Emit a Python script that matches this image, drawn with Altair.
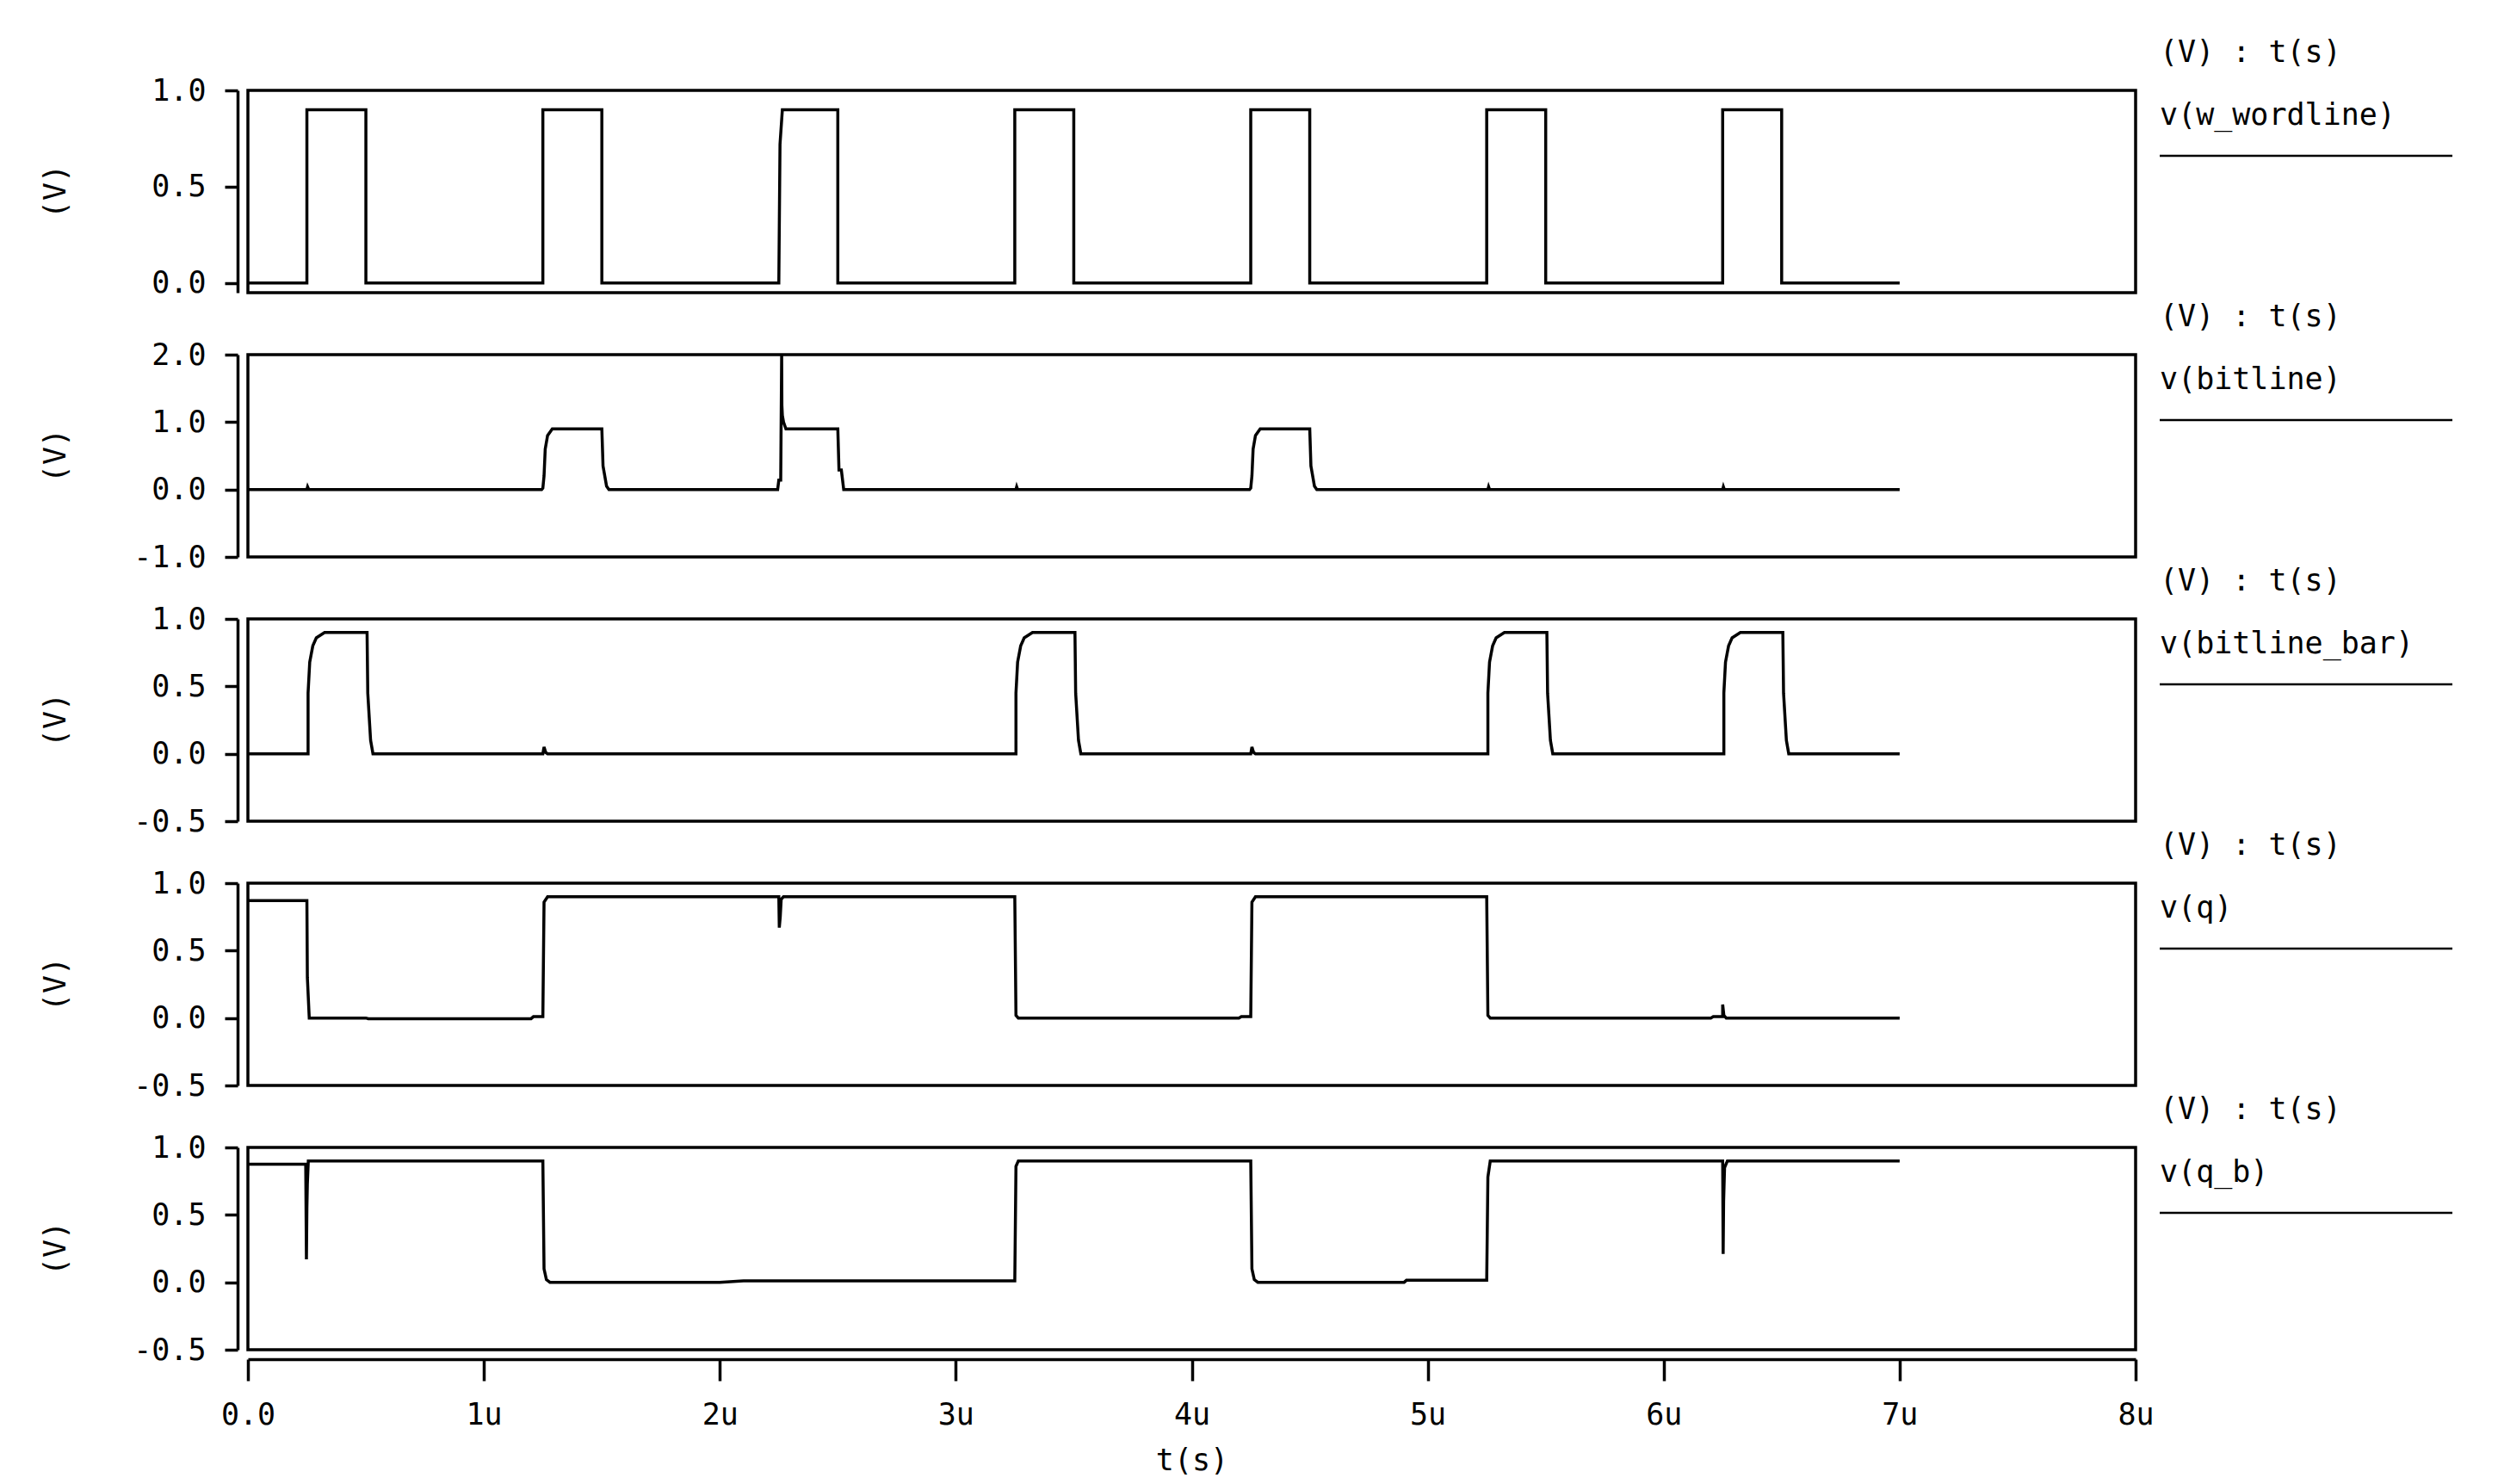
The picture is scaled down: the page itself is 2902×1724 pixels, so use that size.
import altair as alt
import pandas as pd

FONT = "DejaVu Sans Mono"
FS = 35
W = 2193
H = 235

# x axis (time in microseconds)
X_TICKS = [0, 1, 2, 3, 4, 5, 6, 7, 8]
X_TICK_LABELS = ["0.0", "1u", "2u", "3u", "4u", "5u", "6u", "7u", "8u"]

SIGNAL_NAMES = ["v(w_wordline)", "v(bitline)", "v(bitline_bar)", "v(q)", "v(q_b)"]
HEADER = "(V) : t(s)"
Y_TITLE = "(V)"
X_TITLE = "t(s)"
Y_DOMAINS = [[-0.05, 1.0], [-1.0, 2.0], [-0.5, 1.0], [-0.5, 1.0], [-0.5, 1.0]]
Y_TICKS = [
    [0.0, 0.5, 1.0],
    [-1.0, 0.0, 1.0, 2.0],
    [-0.5, 0.0, 0.5, 1.0],
    [-0.5, 0.0, 0.5, 1.0],
    [-0.5, 0.0, 0.5, 1.0],
]

# v(w_wordline)
WL_T = [0.0, 0.25, 0.25, 0.5, 0.5, 1.25, 1.25, 1.5, 1.5, 2.25, 2.255, 2.265, 2.5, 2.5,
        3.25, 3.25, 3.5, 3.5, 4.25, 4.25, 4.5, 4.5, 5.25, 5.25, 5.5, 5.5, 6.25, 6.25,
        6.5, 6.5, 7.0]
WL_V = [0.0, 0.0, 0.9, 0.9, 0.0, 0.0, 0.9, 0.9, 0.0, 0.0, 0.72, 0.9, 0.9, 0.0,
        0.0, 0.9, 0.9, 0.0, 0.0, 0.9, 0.9, 0.0, 0.0, 0.9, 0.9, 0.0, 0.0, 0.9,
        0.9, 0.0, 0.0]

# v(bitline)
BL_T = [0.0, 0.25, 0.253, 0.258, 1.245, 1.25, 1.255, 1.26, 1.27, 1.29, 1.5, 1.505,
        1.52, 1.53, 2.245, 2.25, 2.258, 2.262, 2.263, 2.265, 2.27, 2.275, 2.28, 2.5,
        2.505, 2.515, 2.525, 3.255, 3.258, 3.262, 4.245, 4.25, 4.255, 4.26, 4.27,
        4.29, 4.5, 4.505, 4.52, 4.53, 5.255, 5.258, 5.262, 6.25, 6.253, 6.257, 7.0]
BL_V = [0.0, 0.0, 0.04, 0.0, 0.0, 0.02, 0.2, 0.6, 0.8, 0.9, 0.9, 0.35,
        0.05, 0.0, 0.0, 0.14, 0.14, 2.0, 1.25, 1.1, 1.0, 0.95, 0.9, 0.9,
        0.29, 0.29, 0.0, 0.0, 0.04, 0.0, 0.0, 0.02, 0.2, 0.6, 0.8,
        0.9, 0.9, 0.35, 0.05, 0.0, 0.0, 0.04, 0.0, 0.0, 0.04, 0.0, 0.0]

# v(bitline_bar)
BLB_T = [0.0, 0.255, 0.255, 0.262, 0.275, 0.29, 0.325, 0.505, 0.508, 0.52, 0.53,
         1.25, 1.255, 1.262, 1.27,
         3.255, 3.255, 3.262, 3.275, 3.29, 3.325, 3.505, 3.508, 3.52, 3.53,
         4.25, 4.255, 4.262, 4.27,
         5.255, 5.255, 5.262, 5.275, 5.29, 5.325, 5.505, 5.508, 5.52, 5.53,
         6.255, 6.255, 6.262, 6.275, 6.29, 6.325, 6.505, 6.508, 6.52, 6.53, 7.0]
BLB_V = [0.0, 0.0, 0.45, 0.68, 0.8, 0.86, 0.9, 0.9, 0.45, 0.1, 0.0,
         0.0, 0.05, 0.01, 0.0,
         0.0, 0.45, 0.68, 0.8, 0.86, 0.9, 0.9, 0.45, 0.1, 0.0,
         0.0, 0.05, 0.01, 0.0,
         0.0, 0.45, 0.68, 0.8, 0.86, 0.9, 0.9, 0.45, 0.1, 0.0,
         0.0, 0.45, 0.68, 0.8, 0.86, 0.9, 0.9, 0.45, 0.1, 0.0, 0.0]

# v(q)
Q_T = [0.0, 0.25, 0.252, 0.26, 0.5, 0.51, 1.2, 1.21, 1.25, 1.255, 1.27, 2.25, 2.252,
       2.256, 2.26, 2.27, 3.25, 3.255, 3.265, 4.2, 4.21, 4.25, 4.255, 4.27, 5.25,
       5.255, 5.265, 6.2, 6.21, 6.25, 6.25, 6.255, 6.265, 7.0]
Q_V = [0.87, 0.87, 0.3, 0.0, 0.0, -0.005, -0.005, 0.01, 0.01, 0.86, 0.9, 0.9, 0.67,
       0.75, 0.88, 0.9, 0.9, 0.02, 0.0, 0.0, 0.01, 0.01, 0.86, 0.9, 0.9,
       0.02, 0.0, 0.0, 0.01, 0.01, 0.1, 0.02, 0.0, 0.0]

# v(q_b)
QB_T = [0.0, 0.245, 0.248, 0.25, 0.252, 0.256, 1.25, 1.255, 1.265, 1.28, 2.0, 2.1,
        2.6, 3.25, 3.255, 3.265, 4.25, 4.255, 4.265, 4.28, 4.9, 4.91, 5.25, 5.255,
        5.265, 6.25, 6.252, 6.254, 6.258, 6.27, 7.0]
QB_V = [0.875, 0.875, 0.17, 0.55, 0.73, 0.9, 0.9, 0.1, 0.02, 0.0, 0.0, 0.01,
        0.01, 0.01, 0.86, 0.9, 0.9, 0.1, 0.02, 0.0, 0.0, 0.015, 0.015, 0.78,
        0.9, 0.9, 0.21, 0.6, 0.85, 0.9, 0.9]

SERIES = [(WL_T, WL_V), (BL_T, BL_V), (BLB_T, BLB_V), (Q_T, Q_V), (QB_T, QB_V)]

x_label_expr = "[" + ",".join("'%s'" % s for s in X_TICK_LABELS) + "][round(datum.value)]"
y_label_expr = "(datum.value < 0 ? '-' : '') + format(abs(datum.value), '.1f')"

LABEL_X = 2221


def panel(k):
    ts, vs = SERIES[k]
    df = pd.DataFrame({"t": ts, "v": vs, "i": list(range(len(ts)))})
    bottom = k == len(SERIES) - 1
    if bottom:
        xaxis = alt.Axis(values=X_TICKS, labelExpr=x_label_expr, offset=11, tickSize=25,
                         labelPadding=22, labelFlush=False, title=X_TITLE, titlePadding=18,
                         titleFont=FONT, titleFontSize=FS, titleFontWeight="normal",
                         titleColor="black", grid=False)
    else:
        xaxis = None
    yaxis = alt.Axis(values=Y_TICKS[k], labelExpr=y_label_expr, offset=12, tickSize=15,
                     labelPadding=22, labelFlush=False, title=None, grid=False)
    line = alt.Chart(df).mark_line(color="black", strokeWidth=3.5, clip=True).encode(
        x=alt.X("t:Q", scale=alt.Scale(domain=[0, 8], nice=False), axis=xaxis),
        y=alt.Y("v:Q", scale=alt.Scale(domain=Y_DOMAINS[k], nice=False, zero=False), axis=yaxis),
        order=alt.Order("i:Q"),
    )
    one = pd.DataFrame({"k": [0]})
    txt = dict(font=FONT, fontSize=FS, color="black", baseline="middle")
    hdr = alt.Chart(one).mark_text(align="left", **txt).encode(
        x=alt.value(LABEL_X), y=alt.value(-44), text=alt.value(HEADER))
    lbl = alt.Chart(one).mark_text(align="left", **txt).encode(
        x=alt.value(LABEL_X), y=alt.value(29), text=alt.value(SIGNAL_NAMES[k]))
    rule = alt.Chart(one).mark_rule(color="black", strokeWidth=2.5).encode(
        x=alt.value(LABEL_X), x2=alt.value(LABEL_X + 340), y=alt.value(76))
    ytitle = alt.Chart(one).mark_text(align="center", angle=270, **txt).encode(
        x=alt.value(-223), y=alt.value(H / 2), text=alt.value(Y_TITLE))
    return alt.layer(line, hdr, lbl, rule, ytitle).properties(width=W, height=H)


chart = alt.vconcat(*[panel(k) for k in range(len(SERIES))], spacing=72, bounds="flush").properties(
    padding={"left": 38, "top": 34, "right": 5, "bottom": 5},
    background="white",
).configure_view(
    stroke="black", strokeWidth=3.5
).configure_axis(
    domainColor="black", domainWidth=3.5, tickColor="black", tickWidth=3.5,
    labelFont=FONT, labelFontSize=FS, labelColor="black", grid=False
)

chart.save("out.html", embed_options={"renderer": "svg", "actions": False})
